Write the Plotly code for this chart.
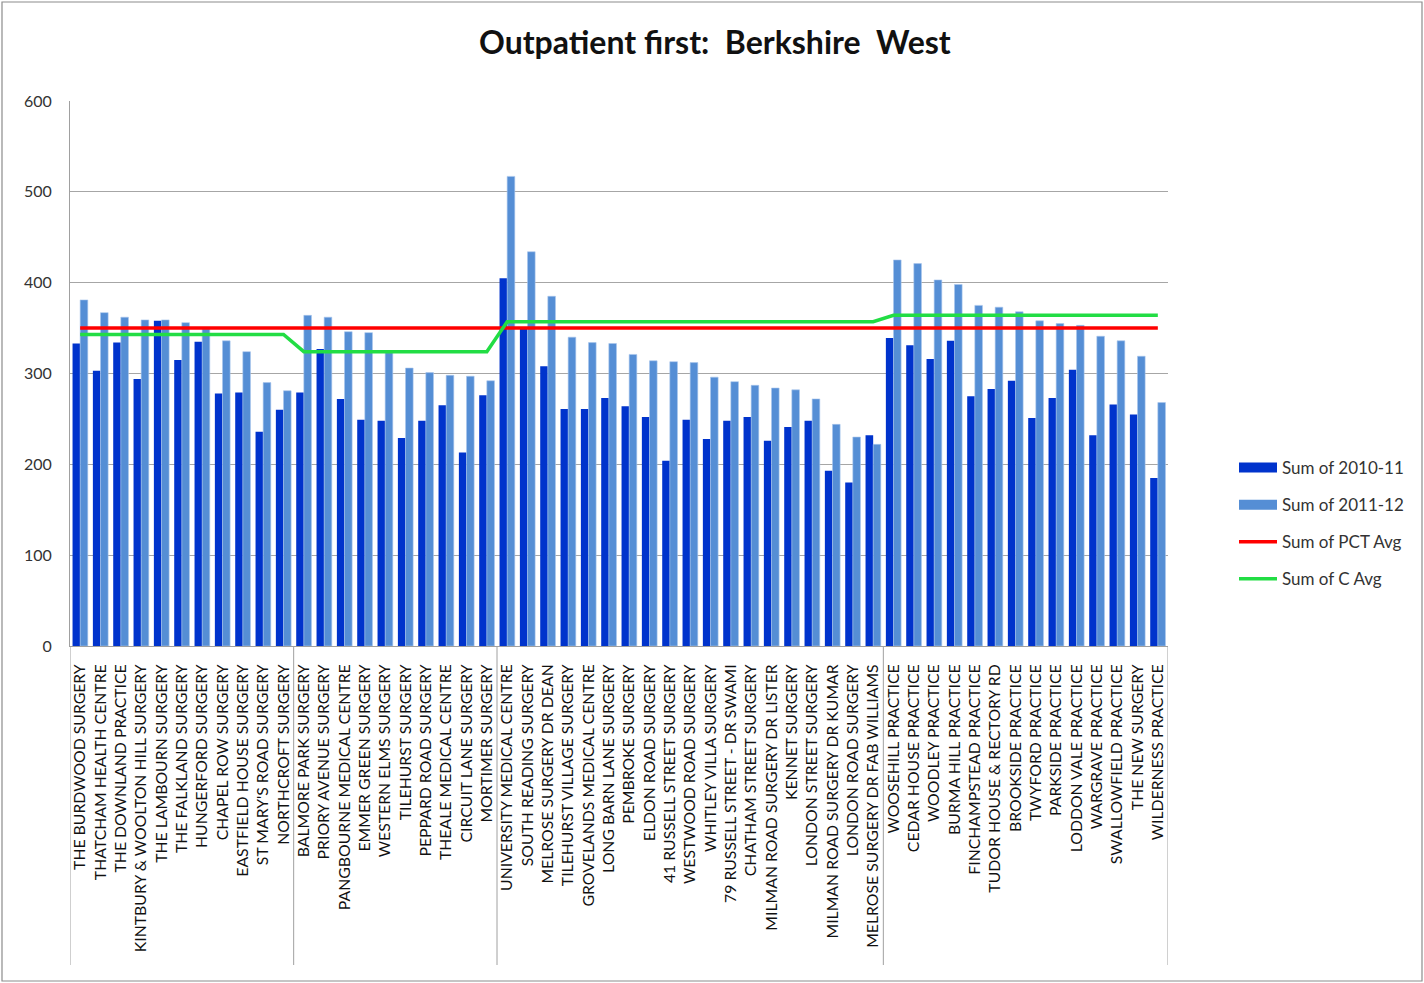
import plotly.graph_objects as go

group_sizes = [11, 10, 19, 14]

practices = [
    "THE BURDWOOD SURGERY", "THATCHAM HEALTH CENTRE", "THE DOWNLAND PRACTICE",
    "KINTBURY & WOOLTON HILL SURGERY", "THE LAMBOURN SURGERY", "THE FALKLAND SURGERY",
    "HUNGERFORD SURGERY", "CHAPEL ROW SURGERY", "EASTFIELD HOUSE SURGERY",
    "ST MARY'S ROAD SURGERY", "NORTHCROFT SURGERY",
    "BALMORE PARK SURGERY", "PRIORY AVENUE SURGERY", "PANGBOURNE MEDICAL CENTRE",
    "EMMER GREEN SURGERY", "WESTERN ELMS SURGERY", "TILEHURST SURGERY",
    "PEPPARD ROAD SURGERY", "THEALE MEDICAL CENTRE", "CIRCUIT LANE SURGERY",
    "MORTIMER SURGERY",
    "UNIVERSITY MEDICAL CENTRE", "SOUTH READING SURGERY", "MELROSE SURGERY DR DEAN",
    "TILEHURST VILLAGE SURGERY", "GROVELANDS MEDICAL CENTRE", "LONG BARN LANE SURGERY",
    "PEMBROKE SURGERY", "ELDON ROAD SURGERY", "41 RUSSELL STREET SURGERY",
    "WESTWOOD ROAD SURGERY", "WHITLEY VILLA SURGERY", "79 RUSSELL STREET - DR SWAMI",
    "CHATHAM STREET SURGERY", "MILMAN ROAD SURGERY DR LISTER", "KENNET SURGERY",
    "LONDON STREET SURGERY", "MILMAN ROAD SURGERY DR KUMAR", "LONDON ROAD SURGERY",
    "MELROSE SURGERY DR FAB WILLIAMS",
    "WOOSEHILL PRACTICE", "CEDAR HOUSE PRACTICE", "WOODLEY PRACTICE",
    "BURMA HILL PRACTICE", "FINCHAMPSTEAD PRACTICE", "TUDOR HOUSE & RECTORY RD",
    "BROOKSIDE PRACTICE", "TWYFORD PRACTICE", "PARKSIDE PRACTICE",
    "LODDON VALE PRACTICE", "WARGRAVE PRACTICE", "SWALLOWFIELD PRACTICE",
    "THE NEW SURGERY", "WILDERNESS PRACTICE",
]

sum_2010_11 = [
    333, 303, 334, 294, 358, 315, 335, 278, 279, 236, 260,
    279, 327, 272, 249, 248, 229, 248, 265, 213, 276,
    405, 350, 308, 261, 261, 273, 264, 252, 204, 249,
    228, 248, 252, 226, 241, 248, 193, 180, 232,
    339, 331, 316, 336, 275, 283, 292, 251, 273, 304, 232, 266, 255, 185,
]

sum_2011_12 = [
    381, 367, 362, 359, 359, 356, 349, 336, 324, 290, 281,
    364, 362, 346, 345, 323, 306, 301, 298, 297, 292,
    517, 434, 385, 340, 334, 333, 321, 314, 313, 312,
    296, 291, 287, 284, 282, 272, 244, 230, 222,
    425, 421, 403, 398, 375, 373, 368, 358, 355, 353, 341, 336, 319, 268,
]

pct_avg = [350] * 54

group_c_avg = [343, 324, 357, 364]
c_avg = [v for v, n in zip(group_c_avg, group_sizes) for _ in range(n)]

FONT = "Lato"
DARK = "#0033CC"
LIGHT = "#558ED5"

fig = go.Figure()
fig.add_trace(go.Bar(x=practices, y=sum_2010_11, name="Sum of 2010-11",
                     marker=dict(color=DARK, line=dict(width=0)),
                     showlegend=False, legendgroup="a"))
fig.add_trace(go.Bar(x=practices, y=sum_2011_12, name="Sum of 2011-12",
                     marker=dict(color=LIGHT, line=dict(color="#A9C6EC", width=0.6)),
                     showlegend=False, legendgroup="b"))
fig.add_trace(go.Scatter(x=practices, y=pct_avg, name="Sum of PCT Avg", mode="lines",
                         line=dict(color="#FF0000", width=3.5), showlegend=False,
                         legendgroup="c"))
fig.add_trace(go.Scatter(x=practices, y=c_avg, name="Sum of C Avg", mode="lines",
                         line=dict(color="#22DD44", width=3.5), showlegend=False,
                         legendgroup="d"))

# legend entries in the Excel style (wide bar swatches)
fig.add_trace(go.Scatter(x=[None], y=[None], mode="lines", name="Sum of 2010-11",
                         line=dict(color=DARK, width=12), legendgroup="a"))
fig.add_trace(go.Scatter(x=[None], y=[None], mode="lines", name="Sum of 2011-12",
                         line=dict(color=LIGHT, width=12), legendgroup="b"))
fig.add_trace(go.Scatter(x=[None], y=[None], mode="lines", name="Sum of PCT Avg",
                         line=dict(color="#FF0000", width=3.5), legendgroup="c"))
fig.add_trace(go.Scatter(x=[None], y=[None], mode="lines", name="Sum of C Avg",
                         line=dict(color="#22DD44", width=3.5), legendgroup="d"))

# plot area geometry (pixels)
L, R, T, B = 70, 1168, 101, 646
W, H = 1424, 983
pw, ph = R - L, B - T

def px_x(px):
    return (px - L) / pw

def px_y(py):
    return (B - py) / ph

shapes = []
bounds = [-0.5]
for n in group_sizes:
    bounds.append(bounds[-1] + n)
for b in bounds:
    shapes.append(dict(type="line", xref="x", yref="paper", x0=b, x1=b,
                       y0=0, y1=px_y(965), line=dict(color="#A0A0A0", width=1)))
shapes.append(dict(type="rect", xref="paper", yref="paper",
                   x0=px_x(2), x1=px_x(1422), y0=px_y(981), y1=px_y(2),
                   line=dict(color="#8C8C8C", width=1.2), layer="below"))

fig.update_layout(
    width=W, height=H,
    margin=dict(l=L, r=W - R, t=T, b=H - B),
    paper_bgcolor="white", plot_bgcolor="white",
    font=dict(family=FONT, color="#222222"),
    title=dict(text="<b>Outpatient first:  Berkshire  West</b>",
               x=0.502, xref="container", xanchor="center",
               y=1 - 43 / H, yref="container", yanchor="middle",
               font=dict(family=FONT, size=32, color="#111111")),
    barmode="group", bargap=0.25, bargroupgap=0,
    showlegend=True,
    legend=dict(x=px_x(1234), y=px_y(450), xanchor="left", yanchor="top",
                font=dict(family=FONT, size=17, color="#333333"),
                tracegroupgap=12, traceorder="grouped",
                bgcolor="rgba(0,0,0,0)", itemwidth=38),
    shapes=shapes,
)

fig.update_xaxes(type="category", tickangle=-90,
                 tickfont=dict(family=FONT, size=15.8, color="#111111"),
                 showgrid=False, showline=True, linecolor="#A0A0A0", linewidth=1,
                 ticks="", ticklabelstandoff=11, range=[-0.5, 53.5], fixedrange=True)
fig.update_yaxes(range=[0, 600], dtick=100, tick0=0,
                 showgrid=True, gridcolor="#A6A6A6", gridwidth=1,
                 showline=True, linecolor="#A0A0A0", linewidth=1,
                 zeroline=False, ticks="", ticklabelstandoff=14,
                 tickfont=dict(family=FONT, size=16, color="#333333"))

fig.write_html("out.html", config={"displayModeBar": False},
               post_script="document.body.style.margin='0';")
